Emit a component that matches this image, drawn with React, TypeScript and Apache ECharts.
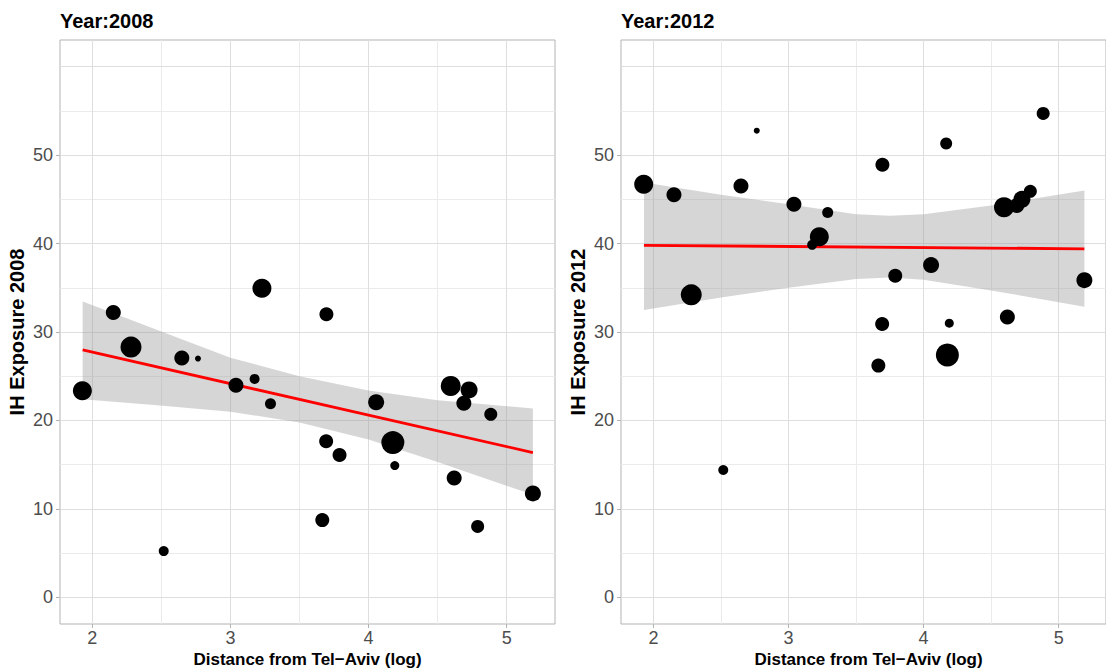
import React, { useEffect, useRef } from "react";
import * as echarts from "echarts";

const FONT = "'Liberation Sans', Arial, Helvetica, sans-serif";

// Distance from Tel-Aviv (log) for each locality
const distance = [1.928, 2.152, 2.28, 2.648, 2.765, 3.04, 3.175, 3.228, 3.29, 3.695, 3.693, 3.79, 4.055, 4.176, 4.19, 4.595, 4.728, 4.69, 4.885, 4.62, 5.19, 3.665, 4.79, 2.517, 4.167];
// IH exposure by year (null = not shown)
const exposure2008 = [23.35, 32.2, 28.3, 27.07, 27.0, 23.98, 24.7, 34.95, 21.9, 32.0, 17.65, 16.1, 22.06, 17.5, 14.9, 23.9, 23.45, 21.95, 20.7, 13.5, 11.76, 8.74, 8.03, 5.24, null];
const exposure2012 = [46.7, 45.5, 34.2, 46.5, 52.75, 44.45, 39.85, 40.76, 43.5, 48.9, 30.9, 36.35, 37.56, 27.4, 31.0, 44.1, 45.0, 44.3, 54.7, 31.7, 35.86, 26.2, 45.9, 14.4, 51.3];
// point size (diameter)
const pointSize = [19, 15, 21, 15, 6, 15, 10, 19, 11, 14, 14, 14, 16, 23, 9, 20, 17, 15, 13, 15, 16, 14, 13, 10, 12];

// linear fit lines
const fitX = [1.93, 5.19];
const fit2008 = [27.97, 16.37];
const fit2012 = [39.8, 39.4];

// confidence bands
const bandX2008 = [1.93, 2.49, 3.0, 3.5, 4.0, 4.5, 5.19];
const bandUpper2008 = [33.45, 30.1, 27.1, 25.0, 23.4, 22.3, 21.35];
const bandLower2008 = [22.4, 21.7, 21.0, 19.77, 17.85, 15.3, 11.6];
const bandX2012 = [1.93, 2.5, 3.0, 3.5, 3.75, 4.0, 4.5, 5.19];
const bandUpper2012 = [46.9, 45.5, 44.45, 43.3, 43.15, 43.3, 44.3, 46.0];
const bandLower2012 = [32.5, 33.9, 35.0, 36.0, 36.15, 35.9, 34.7, 32.85];

// axes
const yTickValues = [0, 10, 20, 30, 40, 50];
const xTickValues = [2, 3, 4, 5];
const gridMajorY = [0, 10, 20, 30, 40, 50, 60];
const gridMinorY = [5, 15, 25, 35, 45, 55];
const gridMajorX = [2, 3, 4, 5];
const gridMinorX = [2.5, 3.5, 4.5];

const panels = [
  { year: "2008", exposure: exposure2008, fit: fit2008, bandX: bandX2008, upper: bandUpper2008, lower: bandLower2008, left: 60, xMin: 1.766, xMax: 5.35 },
  { year: "2012", exposure: exposure2012, fit: fit2012, bandX: bandX2012, upper: bandUpper2012, lower: bandLower2012, left: 621, xMin: 1.76, xMax: 5.35 },
];

const TOP = 40;
const HEIGHT = 584;
const WIDTH = 495;

export default function App() {
  const ref = useRef<HTMLDivElement>(null);
  useEffect(() => {
    if (!ref.current) return;
    const chart = echarts.init(ref.current, undefined, { renderer: "svg" });

    const grid = panels.map((p) => ({
      left: p.left,
      top: TOP,
      width: WIDTH,
      height: HEIGHT,
      show: true,
      borderColor: "#b3b3b3",
      borderWidth: 1,
      backgroundColor: "#ffffff",
    }));

    const xAxis = panels.map((p, i) => ({
      type: "value",
      gridIndex: i,
      min: p.xMin,
      max: p.xMax,
      axisLine: { show: false, onZero: false },
      splitLine: { show: false },
      axisTick: { show: true, length: 4, lineStyle: { color: "#b3b3b3", width: 1 }, customValues: xTickValues },
      axisLabel: { customValues: xTickValues, fontSize: 18, color: "#4d4d4d", margin: 5, fontFamily: FONT },
    }));

    const yAxis = panels.map((p, i) => ({
      type: "value",
      gridIndex: i,
      min: -3,
      max: 63,
      axisLine: { show: false, onZero: false },
      splitLine: { show: false },
      axisTick: { show: true, length: 4, lineStyle: { color: "#b3b3b3", width: 1 }, customValues: yTickValues },
      axisLabel: { customValues: yTickValues, fontSize: 18, color: "#4d4d4d", margin: 7, fontFamily: FONT },
    }));

    const series: any[] = [];
    panels.forEach((p, i) => {
      const major = { color: "#dedede", width: 1, type: "solid" };
      const minor = { color: "#ebebeb", width: 1, type: "solid" };
      series.push({
        type: "line",
        xAxisIndex: i,
        yAxisIndex: i,
        data: [],
        silent: true,
        z: 1,
        markLine: {
          z: 1,
          silent: true,
          symbol: ["none", "none"],
          label: { show: false },
          emphasis: { disabled: true },
          data: [
            ...gridMinorY.map((v) => ({ yAxis: v, lineStyle: minor })),
            ...gridMinorX.map((v) => ({ xAxis: v, lineStyle: minor })),
            ...gridMajorY.map((v) => ({ yAxis: v, lineStyle: major })),
            ...gridMajorX.map((v) => ({ xAxis: v, lineStyle: major })),
          ],
        },
      });
      series.push({
        type: "custom",
        xAxisIndex: i,
        yAxisIndex: i,
        z: 2,
        silent: true,
        data: [[p.bandX[0], p.upper[0]]],
        renderItem: (_params: any, api: any) => {
          const top = p.bandX.map((x, k) => api.coord([x, p.upper[k]]));
          const bottom = p.bandX.map((x, k) => api.coord([x, p.lower[k]])).reverse();
          return {
            type: "polygon",
            shape: { points: top.concat(bottom) },
            style: { fill: "rgba(153,153,153,0.4)" },
          };
        },
      });
      series.push({
        type: "line",
        xAxisIndex: i,
        yAxisIndex: i,
        z: 3,
        silent: true,
        showSymbol: false,
        data: fitX.map((x, k) => [x, p.fit[k]]),
        lineStyle: { color: "#ff0000", width: 2.8 },
      });
      series.push({
        type: "scatter",
        xAxisIndex: i,
        yAxisIndex: i,
        z: 4,
        silent: true,
        data: distance
          .map((x, k) => [x, p.exposure[k], pointSize[k]])
          .filter((d) => d[1] !== null && d[1] !== undefined),
        symbolSize: (val: number[]) => val[2],
        itemStyle: { color: "#000000", opacity: 1 },
      });
    });

    const graphic: any[] = [];
    panels.forEach((p) => {
      graphic.push({
        type: "text",
        x: p.left,
        y: 21,
        silent: true,
        style: { text: "Year:" + p.year, fontSize: 20, fontWeight: "bold", fontFamily: FONT, fill: "#000", align: "left", verticalAlign: "middle" },
      });
      graphic.push({
        type: "text",
        x: p.left - 43.5,
        y: TOP + HEIGHT / 2,
        rotation: Math.PI / 2,
        silent: true,
        style: { text: "IH Exposure " + p.year, fontSize: 20, fontWeight: "bold", fontFamily: FONT, fill: "#000", align: "center", verticalAlign: "middle" },
      });
      graphic.push({
        type: "text",
        x: p.left + WIDTH / 2,
        y: 659.5,
        silent: true,
        style: { text: "Distance from Tel\u2212Aviv (log)", fontSize: 17, fontWeight: "bold", fontFamily: FONT, fill: "#000", align: "center", verticalAlign: "middle" },
      });
    });

    chart.setOption({
      animation: false,
      backgroundColor: "#ffffff",
      textStyle: { fontFamily: FONT },
      grid,
      xAxis,
      yAxis,
      series,
      graphic,
    });
    return () => chart.dispose();
  }, []);
  return <div ref={ref} style={{ position: "absolute", left: 0, top: 0, width: 1106, height: 669 }} />;
}
